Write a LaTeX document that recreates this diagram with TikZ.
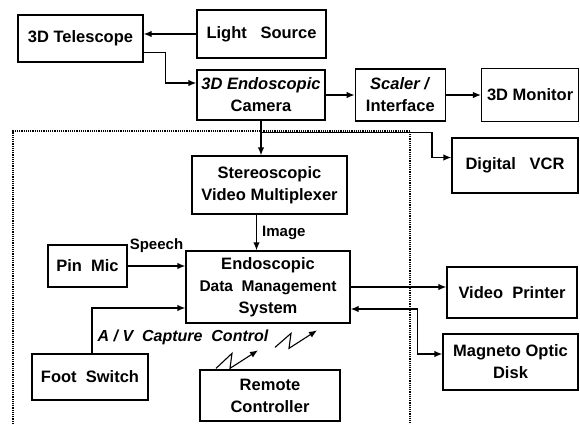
\documentclass[tikz,border=0pt]{standalone}
\usepackage{fontspec}
\setmainfont{Liberation Sans}
\usetikzlibrary{arrows.meta, positioning, calc}

\begin{document}
\begin{tikzpicture}[x=1pt, y=-1pt, >={Latex[length=8pt,width=6.5pt]}]

    % --- styles ---
    \tikzstyle{unit} = [rectangle, draw=black, line width=1.3pt, align=center, inner sep=2pt, font=\bfseries\fontsize{16.5}{22}\selectfont]
    \tikzstyle{link} = [line width=1.3pt, ->]
    \tikzstyle{tag} = [inner sep=1pt, font=\bfseries\fontsize{15}{18}\selectfont]
    \tikzstyle{zap} = [line width=1.1pt, ->]

    \useasboundingbox (0,0) rectangle (580,424);

    % --- top row ---
    \node (tele) [unit, minimum width=125pt, minimum height=47pt] at (80.5,38.5) {3D Telescope};
    \node (light) [unit, minimum width=129pt, minimum height=48pt] at (261.5,34) {Light\ \ \ Source};
    \node (cam) [unit, minimum width=128pt, minimum height=50pt] at (261,95) {\textit{3D\ Endoscopic}\\Camera};
    \node (scaler) [unit, minimum width=90pt, minimum height=52pt, right=29pt of cam] {\textit{Scaler\ /}\\Interface};
    \node (monitor) [unit, minimum width=97pt, minimum height=53pt, right=35pt of scaler] {3D Monitor};
    \node (vcr) [unit, minimum width=126pt, minimum height=55pt] at (515,165.5) {Digital\ \ \ VCR};

    % --- inside the dotted frame ---
    \node (mux) [unit, minimum width=155pt, minimum height=58pt] at (269.5,185) {Stereoscopic\\Video\ Multiplexer};
    \node (dms) [unit, minimum width=164pt, minimum height=72pt] at (268,287) {Endoscopic\\{\fontsize{15.5}{22}\selectfont Data\ \ Management}\\System};
    \node (pinmic) [unit, minimum width=79pt, minimum height=42pt] at (87.5,266) {Pin\ \ Mic};
    \node (foot) [unit, minimum width=116pt, minimum height=46pt] at (90,377) {Foot\ \ Switch};
    \node (remote) [unit, minimum width=140pt, minimum height=51pt] at (270,395.5) {Remote\\Controller};

    % --- right column ---
    \node (printer) [unit, minimum width=130pt, minimum height=51pt] at (512,292.5) {Video\ \ Printer};
    \node (mod) [unit, minimum width=135pt, minimum height=56pt] at (510.5,362) {Magneto\ Optic\\Disk};

    % dotted frame
    \draw[line width=1.2pt, densely dotted] (13,424) -- (13,131) -- (410,131) -- (410,424);

    % --- connectors ---
    \draw[link] (light.west) -- (tele.east |- light.west);
    \draw[link] ([yshift=-14pt]tele.east) -- ++(22,0) |- ([yshift=12pt]cam.west);
    \draw[link] (cam.east) -- (scaler.west |- cam.east);
    \draw[link] (scaler.east) -- (monitor.west |- scaler.east);
    \draw[link] (cam.south) -- (cam.south |- mux.north);
    \coordinate (split) at ([yshift=-12pt]cam.south);
    \draw[link] (split) -- ++(171,0) |- ([yshift=8pt]vcr.west);
    \draw[link] ([xshift=-13pt]mux.south) -- ([xshift=-13pt]mux.south |- dms.north) node[tag, midway, right=4pt] {Image};
    \draw[link] (pinmic.east) -- (pinmic.east -| dms.west) node[tag, midway, above=12pt] {Speech};
    \draw[link] ([xshift=2pt]foot.north) |- ([yshift=-21pt]dms.west);
    \node (avtag) [tag, font=\bfseries\itshape\fontsize{16}{18}\selectfont] at (183,337) {A / V\ \ Capture\ \ Control};
    \draw[link] (dms.east) -- (dms.east -| printer.west);
    \draw[link, <->] ([yshift=-22pt]dms.east) -- ++(67,0) |- ([yshift=8pt]mod.west);

    % wireless links
    \draw[zap] ([xshift=-54pt, yshift=1pt]remote.north) -- ++(16,-15) -- ++(-2,15) -- ++(28,-18);
    \draw[zap] ([xshift=5pt, yshift=22pt]remote.north) -- ++(16,-14) -- ++(-2,15) -- ++(28,-18);

\end{tikzpicture}
\end{document}
